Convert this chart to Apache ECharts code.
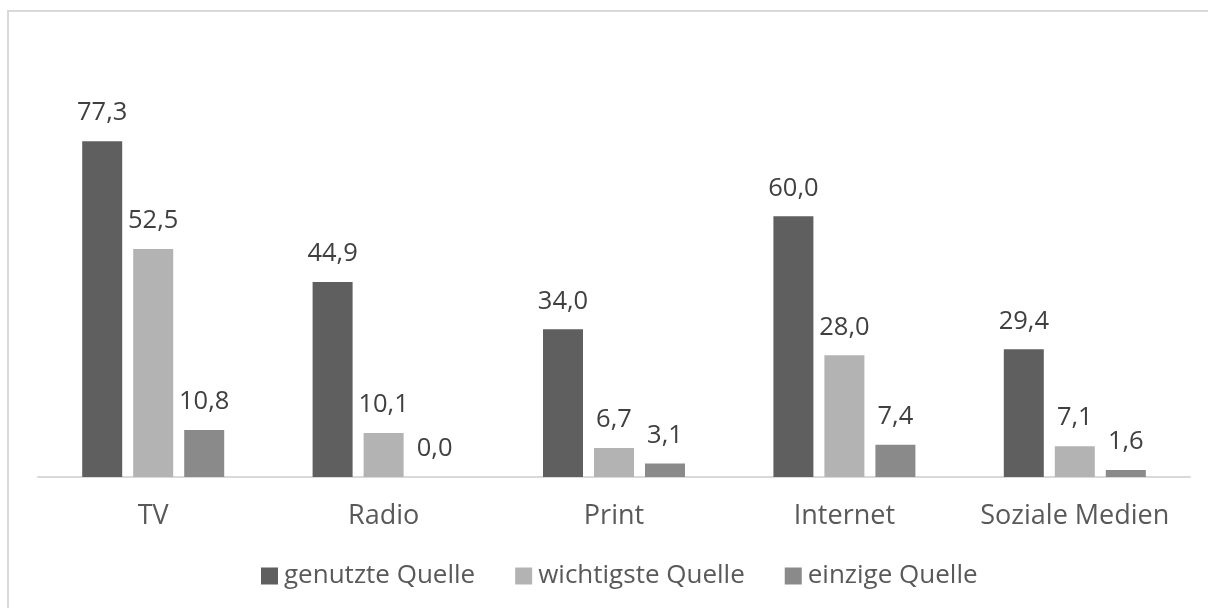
<!DOCTYPE html>
<html><head><meta charset="utf-8">
<script src="https://cdn.jsdelivr.net/npm/echarts@6/dist/echarts.min.js"></script>
<style>html,body{margin:0;padding:0;background:#fff}#c{width:1208px;height:608px}</style>
</head><body><div id="c"></div>
<script>
const categories = ['TV', 'Radio', 'Print', 'Internet', 'Soziale Medien'];
const seriesNames = ['genutzte Quelle', 'wichtigste Quelle', 'einzige Quelle'];
const genutzt = [77.3, 44.9, 34.0, 60.0, 29.4];
const wichtigste = [52.5, 10.1, 6.7, 28.0, 7.1];
const einzige = [10.8, 0.0, 3.1, 7.4, 1.6];
const colors = ['#5f5f5f', '#b3b3b3', '#8a8a8a'];
const FONT = 'Open Sans';
const chart = echarts.init(document.getElementById('c'), null, {renderer: 'canvas'});
const fmt = p => p.value.toFixed(1).replace('.', ',');
function mk(name, data, color) {
  return {
    name, type: 'bar', data, barWidth: 40, barGap: '27.5%',
    itemStyle: {color},
    label: {show: true, position: 'top', distance: 15, formatter: fmt,
      fontFamily: FONT, fontSize: 25.5, color: '#404040'}
  };
}
chart.setOption({
  animation: false,
  graphic: [{type: 'rect', shape: {x: 8, y: 11, width: 1400, height: 800},
    style: {fill: 'none', stroke: '#d9d9d9', lineWidth: 2}, silent: true}],
  grid: {left: 38, right: 18, top: 86, bottom: 131},
  legend: {bottom: 14, left: 256, itemWidth: 17, itemHeight: 17, itemGap: 40,
    icon: 'rect', textStyle: {fontFamily: FONT, fontSize: 26, color: '#595959', padding: [0,0,0,1]},
    data: seriesNames},
  xAxis: {type: 'category', data: categories,
    axisLine: {lineStyle: {color: '#d9d9d9', width: 2}},
    axisTick: {show: false},
    axisLabel: {interval: 0, fontFamily: FONT, fontSize: 27, color: '#595959', margin: 26}},
  yAxis: {type: 'value', min: 0, max: 90, show: false, splitLine: {show: false}},
  series: [mk(seriesNames[0], genutzt, colors[0]), mk(seriesNames[1], wichtigste, colors[1]), mk(seriesNames[2], einzige, colors[2])]
});
</script></body></html>
